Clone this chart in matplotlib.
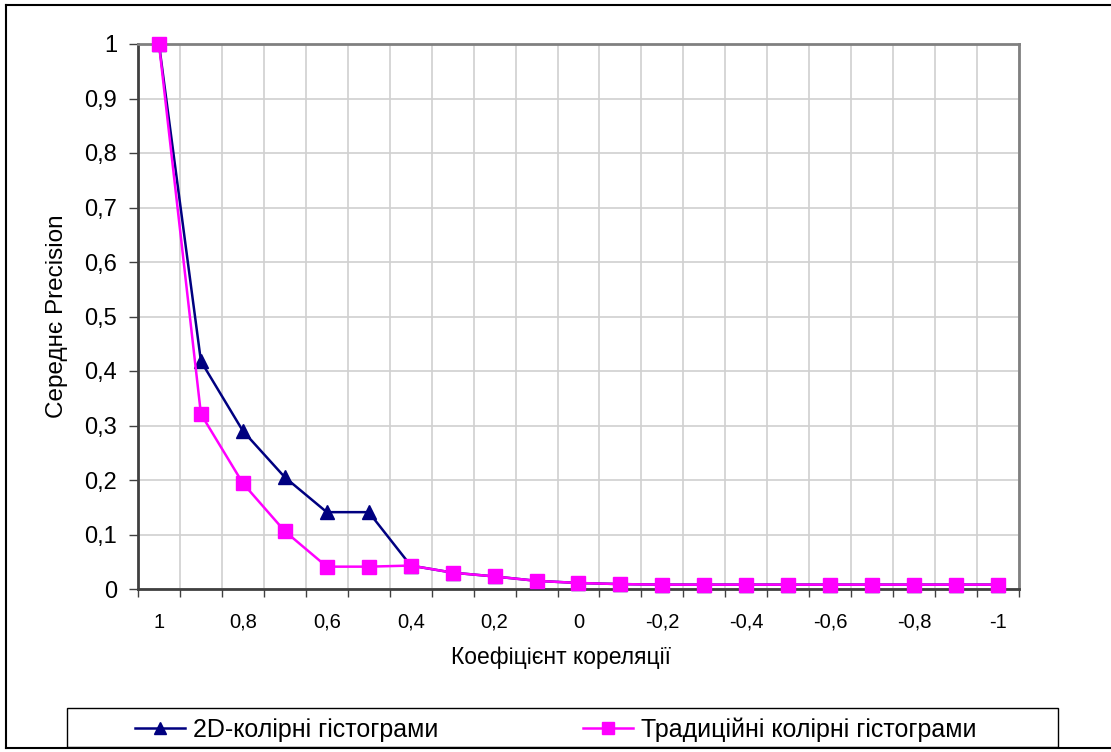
import matplotlib
matplotlib.use("Agg")
import matplotlib.pyplot as plt
from matplotlib.patches import Rectangle
from matplotlib.lines import Line2D
import numpy as np

categories = ["1", "0,9", "0,8", "0,7", "0,6", "0,5", "0,4", "0,3", "0,2", "0,1", "0",
              "-0,1", "-0,2", "-0,3", "-0,4", "-0,5", "-0,6", "-0,7", "-0,8", "-0,9", "-1"]
series_2d = [1.0, 0.418, 0.29, 0.205, 0.141, 0.141, 0.043, 0.030, 0.023, 0.015, 0.011,
             0.009, 0.008, 0.008, 0.008, 0.008, 0.008, 0.008, 0.008, 0.008, 0.008]
series_trad = [1.0, 0.321, 0.194, 0.106, 0.041, 0.041, 0.043, 0.030, 0.023, 0.015, 0.011,
               0.009, 0.008, 0.008, 0.008, 0.008, 0.008, 0.008, 0.008, 0.008, 0.008]
y_ticks = [0, 0.1, 0.2, 0.3, 0.4, 0.5, 0.6, 0.7, 0.8, 0.9, 1.0]
y_labels = ["0", "0,1", "0,2", "0,3", "0,4", "0,5", "0,6", "0,7", "0,8", "0,9", "1"]
label_2d = "2D-колірні гістограми"
label_trad = "Традиційні колірні гістограми"

plt.rcParams['font.family'] = ['Liberation Sans', 'DejaVu Sans']

W, H = 1111, 752
fig = plt.figure(figsize=(W / 100, H / 100), dpi=100)

def fx(px):
    return px / W
def fy(py):
    return 1 - py / H

# outer chart border (top, left, bottom; right edge lies outside the picture)
for (x0, y0, x1, y1) in [(6, 5, W, 5), (6, 5, 6, 748), (6, 748, W, 748)]:
    fig.add_artist(Line2D([fx(x0), fx(x1)], [fy(y0), fy(y1)], color='black',
                          linewidth=1.5, transform=fig.transFigure))

ax = fig.add_axes([fx(138), fy(589), (1019 - 138) / W, (589 - 44) / H])
x = np.arange(len(categories))

l1, = ax.plot(x, series_2d, color='#000080', linewidth=1.8, marker='^', markersize=10.5,
              label=label_2d, zorder=3, clip_on=False)
l2, = ax.plot(x, series_trad, color='#FF00FF', linewidth=1.8, marker='s', markersize=10,
              label=label_trad, zorder=4, clip_on=False)

ax.set_xlim(-0.5, len(categories) - 0.5)
ax.set_ylim(0, 1)

ax.set_xticks(x[::2])
ax.set_xticklabels(categories[::2], fontsize=14.5)
ax.set_xticks(np.arange(-0.5, len(categories), 1.0), minor=True)
ax.tick_params(axis='x', which='major', length=0, pad=17)
ax.tick_params(axis='x', which='minor', length=6, width=1, color='#404040', direction='out')

ax.set_yticks(y_ticks)
ax.set_yticklabels(y_labels, fontsize=17)
ax.tick_params(axis='y', length=6.5, width=1, color='#404040', pad=8.5)

ax.grid(False)
for xv in np.arange(-0.5, len(categories), 1.0):
    ax.axvline(xv, color='#D0D0D0', linewidth=1.2, zorder=1)
for yv in y_ticks:
    ax.axhline(yv, color='#D0D0D0', linewidth=1.2, zorder=1)

for side in ['top', 'right']:
    ax.spines[side].set_color('#808080')
    ax.spines[side].set_linewidth(2)
for side in ['left', 'bottom']:
    ax.spines[side].set_color('#404040')
    ax.spines[side].set_linewidth(2)

ax.set_ylabel("Середнє Precision", fontsize=17.5)
ax.yaxis.set_label_coords(-0.08, 0.5)
ax.set_xlabel("Коефіцієнт кореляції", fontsize=16.5)
ax.xaxis.set_label_coords(0.48, -0.105)

# legend frame
fig.add_artist(Rectangle((fx(67), fy(747)), (1058 - 67) / W, (747 - 708) / H,
                         transform=fig.transFigure, fill=False,
                         edgecolor='black', linewidth=1.0))

common = dict(loc='center left', fontsize=18, frameon=False, handlelength=2.0,
              handletextpad=0.32, borderaxespad=0, borderpad=0, markerscale=0.8)
leg1 = fig.legend(handles=[l1], bbox_to_anchor=(fx(135), fy(729.5)), **common)
leg2 = fig.legend(handles=[l2], bbox_to_anchor=(fx(583), fy(729.5)), **common)

fig.savefig("out.png", dpi=100)
